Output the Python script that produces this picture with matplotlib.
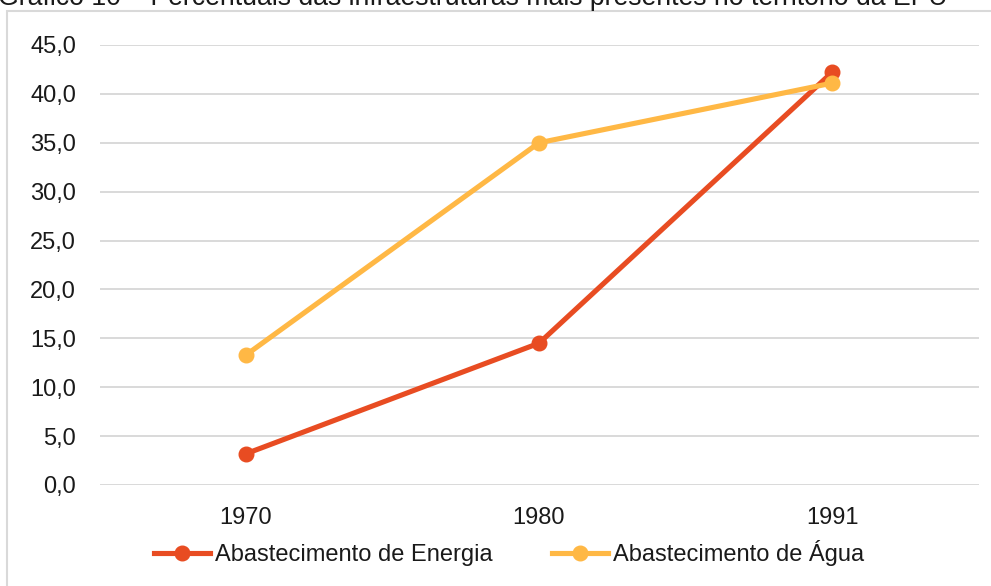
import matplotlib
matplotlib.use("Agg")
import matplotlib.pyplot as plt
from matplotlib.patches import Rectangle
from matplotlib.lines import Line2D

plt.rcParams['font.family'] = ['Liberation Sans', 'DejaVu Sans']

# Data
years = ["1970", "1980", "1991"]
energia = [3.2, 14.5, 42.2]
agua = [13.3, 35.0, 41.1]
y_ticks = [0, 5, 10, 15, 20, 25, 30, 35, 40, 45]
y_tick_labels = ["0,0", "5,0", "10,0", "15,0", "20,0", "25,0", "30,0", "35,0", "40,0", "45,0"]
series_names = ["Abastecimento de Energia", "Abastecimento de Água"]
title = "Gráfico 10 – Percentuais das infraestruturas mais presentes no território da EPU"

c_energia = "#E84C22"
c_agua = "#FFB845"
grid_c = "#D9D9D9"
text_c = "#1a1a1a"
fs = 17

W, H = 991, 586
fig = plt.figure(figsize=(W / 100, H / 100), dpi=100)

# Outer chart frame (clipped at right and bottom)
fig.patches.append(Rectangle((7 / W, -0.2), 1.5, 1 - 11 / H + 0.2,
                             transform=fig.transFigure, fill=False,
                             edgecolor=grid_c, linewidth=1.5))

# Title, partly cut off at the top edge
fig.text(-2 / W, 1 - 5 / H, title, ha="left", va="baseline",
         fontsize=19.2, color=text_c)

ax = fig.add_axes([99.5 / W, 1 - 485 / H, 879 / W, 440 / H])
x = list(range(len(years)))
ax.plot(x, energia, color=c_energia, lw=3.7, marker="o", ms=10.5,
        solid_capstyle="round", zorder=3)
ax.plot(x, agua, color=c_agua, lw=3.7, marker="o", ms=10.5,
        solid_capstyle="round", zorder=4)

ax.set_xlim(-0.5, len(years) - 0.5)
ax.set_ylim(0, 45)
ax.set_yticks(y_ticks)
ax.set_yticklabels(y_tick_labels)
ax.set_xticks(x)
ax.set_xticklabels(years)
ax.tick_params(axis="both", length=0, labelsize=fs, colors=text_c)
ax.tick_params(axis="y", pad=17)
ax.tick_params(axis="x", pad=15.5)
ax.grid(axis="y", color=grid_c, lw=1.4)
ax.set_axisbelow(True)
for s in ax.spines.values():
    s.set_visible(False)

handles = [Line2D([0], [0], color=c, lw=3.7, marker="o", ms=10.5)
           for c in (c_energia, c_agua)]
fig.legend(handles, series_names, loc="center", bbox_to_anchor=(509 / W, 1 - 553 / H),
           ncol=2, frameon=False, fontsize=fs, handlelength=2.4,
           handletextpad=0.2, columnspacing=2.5, labelcolor=text_c,
           borderpad=0, borderaxespad=0)

fig.savefig("out.png", dpi=100)
